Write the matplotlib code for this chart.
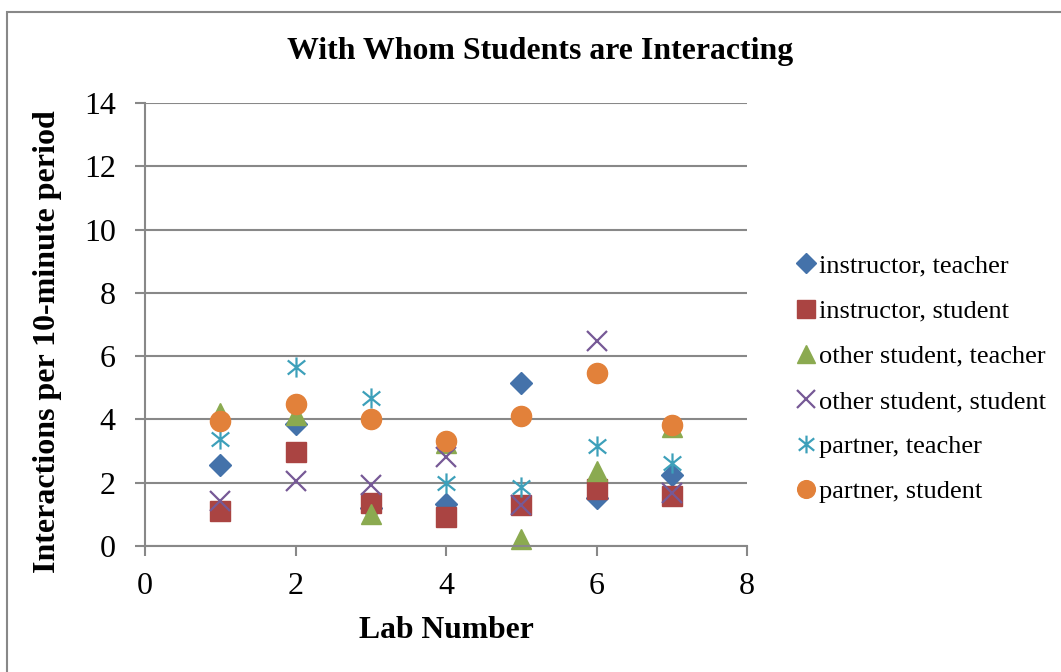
import matplotlib
matplotlib.use("Agg")
import matplotlib.pyplot as plt
from matplotlib.path import Path
from matplotlib.patches import Rectangle

plt.rcParams['font.family'] = ['Liberation Serif', 'DejaVu Serif']

labs = [1, 2, 3, 4, 5, 6, 7]

instructor_teacher = [2.55, 3.87, 1.20, 1.33, 5.16, 1.52, 2.24]
instructor_student = [1.12, 2.96, 1.35, 0.91, 1.30, 1.79, 1.58]
other_student_teacher = [4.20, 4.15, 1.00, 3.25, 0.22, 2.38, 3.75]
other_student_student = [1.43, 2.04, 1.93, 2.82, 1.30, 6.49, 1.66]
partner_teacher = [3.39, 5.67, 4.67, 2.00, 1.88, 3.16, 2.63]
partner_student = [3.96, 4.49, 4.00, 3.33, 4.10, 5.46, 3.81]

series_names = ["instructor, teacher", "instructor, student",
                "other student, teacher", "other student, student",
                "partner, teacher", "partner, student"]

# Six-armed asterisk: vertical stroke plus an X
asterisk = Path(
    [(0, -1), (0, 1), (-0.87, -0.7), (0.87, 0.7), (-0.87, 0.7), (0.87, -0.7)],
    [Path.MOVETO, Path.LINETO, Path.MOVETO, Path.LINETO, Path.MOVETO, Path.LINETO])

styles = [
    dict(marker='D', color='#4472AA', ms=11, mfc='#4472AA', mec='#4472AA'),
    dict(marker='s', color='#AA4442', ms=14, mfc='#AA4442', mec='#AA4442'),
    dict(marker='^', color='#8BAA50', ms=14, mfc='#8BAA50', mec='#8BAA50'),
    dict(marker='x', color='#765996', ms=14, mfc='none', mec='#765996', mew=1.6),
    dict(marker=asterisk, color='#3DA0BA', ms=14.5, mfc='none', mec='#3DA0BA', mew=1.6),
    dict(marker='o', color='#E2813A', ms=14.5, mfc='#E2813A', mec='#E2813A'),
]

values = [instructor_teacher, instructor_student, other_student_teacher,
          other_student_student, partner_teacher, partner_student]

fig = plt.figure(figsize=(10.61, 6.72), dpi=100)
fig.patch.set_facecolor('white')

# Chart-area border
fig.patches.append(Rectangle((7 / 1061, -0.01), 1.2, 1 - 12 / 672 + 0.01,
                             transform=fig.transFigure, fill=False,
                             edgecolor='#888888', linewidth=1.5))

ax = fig.add_axes([145 / 1061, 126 / 672, 602 / 1061, 443 / 672])

for name, vals, st in zip(series_names, values, styles):
    ax.plot(labs, vals, linestyle='none', label=name, clip_on=False, **st)

ax.set_xlim(0, 8)
ax.set_ylim(0, 14)
ax.set_xticks([0, 2, 4, 6, 8])
ax.set_yticks(range(0, 15, 2))
ax.grid(axis='y', color='#888888', linewidth=1.5)
ax.set_axisbelow(True)
for side in ('top', 'right'):
    ax.spines[side].set_visible(False)
for side in ('left', 'bottom'):
    ax.spines[side].set_color('#888888')
    ax.spines[side].set_linewidth(1.5)
ax.tick_params(axis='both', direction='out', length=7, width=1.5,
               color='#888888', labelsize=23)
ax.tick_params(axis='x', pad=12)
ax.tick_params(axis='y', pad=14)

fig.text(540 / 1061, 1 - 51 / 672, "With Whom Students are Interacting",
         ha='center', va='center', fontsize=22.9, fontweight='bold')
fig.text(446 / 1061, 1 - 630 / 672, "Lab Number",
         ha='center', va='center', fontsize=22.8, fontweight='bold')
fig.text(48 / 1061, 1 - 342 / 672, "Interactions per 10-minute period",
         ha='center', va='center', rotation=90, fontsize=23, fontweight='bold')

leg = fig.legend(loc='upper left', bbox_to_anchor=(783 / 1061, 1 - 241 / 672),
                 frameon=False, fontsize=19, handlelength=0.75,
                 handletextpad=0.12, labelspacing=0.82, borderpad=0,
                 markerscale=0.88)

fig.savefig("out.png", dpi=100)
